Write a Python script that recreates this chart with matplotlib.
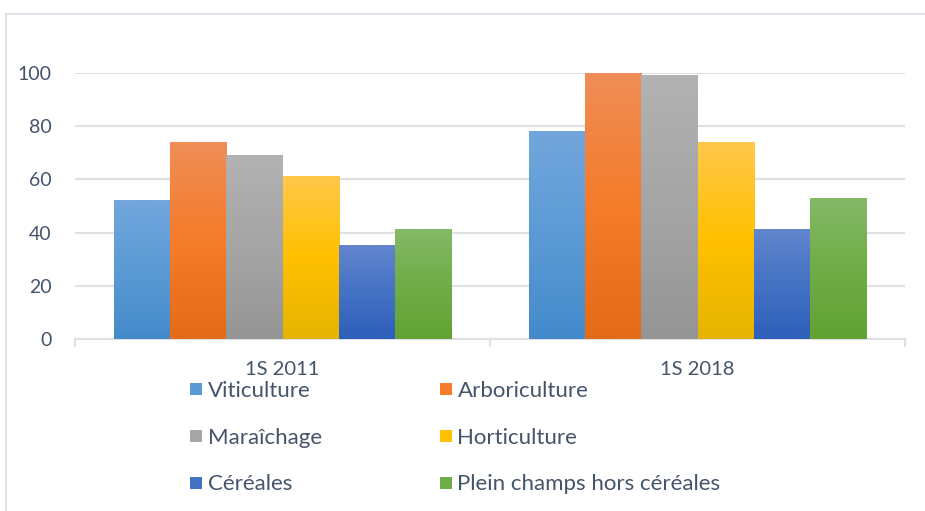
import matplotlib.pyplot as plt
import numpy as np
from matplotlib.colors import to_rgba
from matplotlib.lines import Line2D
from matplotlib.patches import Rectangle

# data
categories = ["1S 2011", "1S 2018"]
series = ["Viticulture", "Arboriculture", "Maraîchage", "Horticulture",
          "Céréales", "Plein champs hors céréales"]
viticulture = [52, 78]
arboriculture = [74, 100]
maraichage = [69, 99]
horticulture = [61, 74]
cereales = [35, 41]
plein_champs = [41, 53]
values = [viticulture, arboriculture, maraichage, horticulture, cereales, plein_champs]
yticks = [0, 20, 40, 60, 80, 100]

# top / middle / bottom colour of each bar gradient
grads = [
    ("#72a6dc", "#5b9bd5", "#448acb"),
    ("#f08d57", "#f47c2a", "#e46b17"),
    ("#b2b2b2", "#a5a5a5", "#959595"),
    ("#ffc84a", "#ffc000", "#e5b400"),
    ("#6285cd", "#4472c4", "#2e5fba"),
    ("#84b967", "#70ad47", "#62a233"),
]
text_col = "#44546a"
grid_col = "#dde1e6"

plt.rcParams['font.family'] = ['Lato', 'DejaVu Sans']


def gradient(cols, n=64):
    top, mid, bot = [np.array(to_rgba(c)) for c in cols]
    half = n // 2
    a = top + (mid - top) * np.linspace(0, 1, half)[:, None]
    b = mid + (bot - mid) * np.linspace(0, 1, n - half)[:, None]
    return np.vstack([a, b])[:, None, :]


fig = plt.figure(figsize=(9.25, 5.11), dpi=100)
ax = fig.add_axes([75 / 925, 1 - 339 / 511, 830 / 925, 266 / 511])

x = np.arange(len(categories))
w = 0.135
for i, vals in enumerate(values):
    off = (i - 2.5) * w
    bars = ax.bar(x + off, vals, w, color=grads[i][1], zorder=2, linewidth=0)
    img = gradient(grads[i])
    for b in bars:
        x0 = b.get_x()
        ax.imshow(img, extent=[x0, x0 + b.get_width(), 0, b.get_height()],
                  aspect='auto', origin='upper', zorder=3, interpolation='bilinear')

ax.set_xlim(-0.5, 1.5)
ax.set_ylim(0, 100)
ax.set_yticks(yticks)
ax.set_yticklabels([str(v) for v in yticks])
ax.yaxis.grid(True, color=grid_col, linewidth=1.5, zorder=0)
ax.set_axisbelow(True)
for s in ["top", "right", "left"]:
    ax.spines[s].set_visible(False)
ax.spines["bottom"].set_color(grid_col)
ax.spines["bottom"].set_linewidth(1.5)
ax.tick_params(axis='y', length=0, pad=17, labelsize=14, labelcolor=text_col)

# category labels, with boundary ticks as in the reference
ax.set_xticks(x)
ax.set_xticklabels(categories)
ax.tick_params(axis='x', length=0, pad=16, labelsize=14.5, labelcolor=text_col)
ax.set_xticks([-0.5, 0.5, 1.5], minor=True)
ax.tick_params(axis='x', which='minor', length=6, width=1.5, color=grid_col)

# legend in two columns, row-major like the reference
handles = [Line2D([], [], marker='s', linestyle='none', markersize=9,
                  markerfacecolor=grads[i][1], markeredgewidth=0) for i in range(6)]
order = [0, 2, 4, 1, 3, 5]
leg = fig.legend([handles[i] for i in order], [series[i] for i in order],
                 ncol=2, loc='upper left', bbox_to_anchor=(190 / 925, 1 - 381 / 511),
                 frameon=False, fontsize=16, labelcolor=text_col,
                 handlelength=0.55, handletextpad=0.25, labelspacing=1.2,
                 columnspacing=5.3, borderaxespad=0, borderpad=0)

# light chart frame
fig.patches.append(Rectangle((6 / 925, -0.1), 1.2, 1 - 14 / 511 + 0.1,
                             transform=fig.transFigure, fill=False,
                             edgecolor="#d9dee5", linewidth=1.2))

fig.savefig("out.png", dpi=100)
